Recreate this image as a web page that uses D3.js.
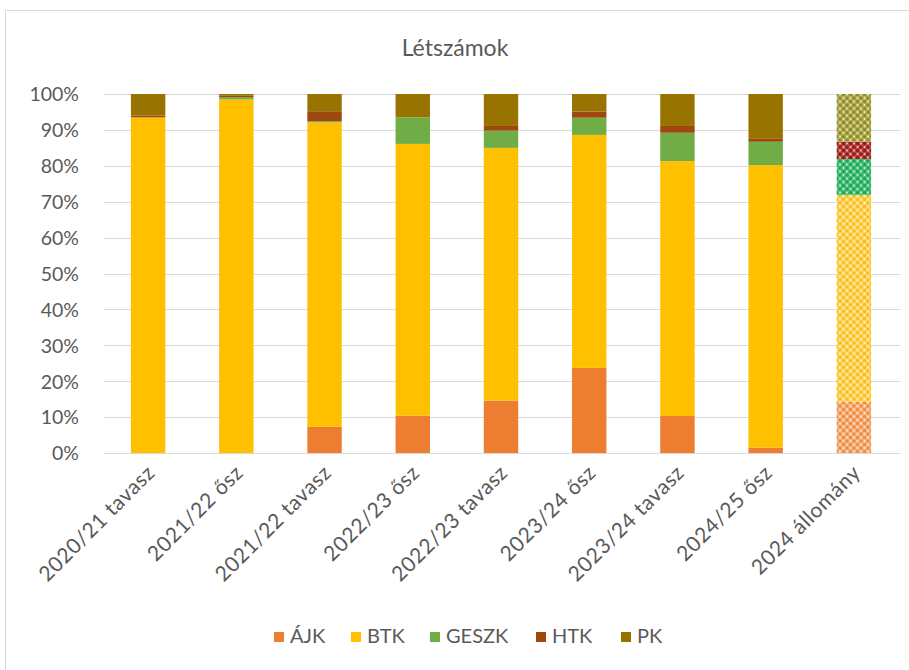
<!DOCTYPE html>
<html><head><meta charset="utf-8">
<script src="https://cdn.jsdelivr.net/npm/d3@7"></script>
<style>body{margin:0;background:#fff}svg{display:block}</style>
</head><body>
<svg id="c" width="909" height="670"></svg>
<script>
const categories = ["2020/21 tavasz","2021/22 ősz","2021/22 tavasz","2022/23 ősz","2022/23 tavasz","2023/24 ősz","2023/24 tavasz","2024/25 ősz","2024 állomány"];
const seriesNames = ["ÁJK","BTK","GESZK","HTK","PK"];
const AJK   = [0,   0,    7.3, 10.4, 14.6, 23.7, 10.3, 1.5, 14.3];
const BTK   = [93.5,98.5, 84.8,75.7, 70.4, 64.9, 71.0, 78.7,57.6];
const GESZK = [0,   0.6,  0.3, 7.4,  4.8,  4.8,  7.9,  6.5, 10.0];
const HTK   = [0.5, 0.4,  2.8, 0,    1.3,  1.7,  1.9,  0.8, 4.8];
const PK    = [6.0, 0.5,  4.8, 6.5,  8.9,  4.9,  8.9,  12.5,13.3];
const yTicks = [0,10,20,30,40,50,60,70,80,90,100];
const colors = ["#ED7D31","#FFC000","#70AD47","#9E480E","#997300"];
const patBase = ["#F6B07A","#FFD45C","#48C27A","#B8443C","#B2AC52"];
const patDot  = ["#EE8A3A","#F9BC1A","#1FA356","#8E1818","#8C8A22"];

const svg = d3.select("#c");
const font = "Lato, 'Open Sans', sans-serif";
const txt = "#595959";

svg.append("rect").attr("x",5.5).attr("y",10.5).attr("width",930).attr("height",700)
  .attr("fill","#fff").attr("stroke","#d9d9d9");

// patterns
const defs = svg.append("defs");
seriesNames.forEach((s,i)=>{
  const p = defs.append("pattern").attr("id","pat"+i).attr("patternUnits","userSpaceOnUse")
    .attr("width",7).attr("height",7);
  p.append("rect").attr("width",7).attr("height",7).attr("fill",patBase[i]);
  [[0,0],[7,0],[0,7],[7,7],[3.5,3.5]].forEach(([x,y])=>
    p.append("circle").attr("cx",x).attr("cy",y).attr("r",1.6).attr("fill",patDot[i]));
  [[3.5,0],[0,3.5],[7,3.5],[3.5,7]].forEach(([x,y])=>
    p.append("circle").attr("cx",x).attr("cy",y).attr("r",0.9).attr("fill","#fff").attr("opacity",0.8));
});

const x = d3.scaleBand().domain(categories).range([104,898]).paddingInner(0.61).paddingOuter(0.305);
const y = d3.scaleLinear().domain([0,100]).range([453,94]);

svg.append("text").attr("x",455).attr("y",56).attr("text-anchor","middle")
  .attr("font-family",font).attr("font-size",23).attr("fill",txt).text("Létszámok");

// grid
svg.append("g").selectAll("line").data(yTicks).join("line")
  .attr("x1",104).attr("x2",900).attr("y1",d=>Math.round(y(d))+0.5).attr("y2",d=>Math.round(y(d))+0.5)
  .attr("stroke","#d9d9d9").attr("stroke-width",1);

// y axis labels
const yAxis = d3.axisLeft(y).tickValues(yTicks).tickFormat(d=>d+"%").tickSize(0).tickPadding(0);
const ya = svg.append("g").attr("transform","translate(79,0)").call(yAxis);
ya.select(".domain").remove();
ya.selectAll("text").attr("font-family",font).attr("font-size",19.5).attr("fill",txt).attr("dy","0.35em");

// stacked data
const rows = categories.map((c,i)=>({cat:c,"ÁJK":AJK[i],"BTK":BTK[i],"GESZK":GESZK[i],"HTK":HTK[i],"PK":PK[i]}));
const stack = d3.stack().keys(seriesNames)(rows);
const last = categories[categories.length-1];
svg.append("g").selectAll("g").data(stack).join("g").each(function(layer,li){
  d3.select(this).selectAll("rect").data(layer).join("rect")
    .attr("x",d=>x(d.data.cat)).attr("width",x.bandwidth())
    .attr("y",d=>y(d[1])).attr("height",d=>Math.max(0,y(d[0])-y(d[1])))
    .attr("fill",d=>d.data.cat===last?`url(#pat${li})`:colors[li]);
});

// x axis labels
const xa = svg.append("g").attr("transform","translate(0,453)").call(d3.axisBottom(x).tickSize(0).tickPadding(0));
xa.select(".domain").attr("stroke","#d9d9d9");
xa.selectAll("text").attr("font-family",font).attr("font-size",21).attr("fill",txt)
  .attr("letter-spacing","0.6px")
  .attr("text-anchor","end").attr("dy",0)
  .attr("transform","translate(8,21) rotate(-45)");

// legend
const legX = [274,351,430,536,621];
const lg = svg.append("g").selectAll("g").data(seriesNames).join("g")
  .attr("transform",(d,i)=>`translate(${legX[i]},632)`);
lg.append("rect").attr("width",10).attr("height",10).attr("fill",(d,i)=>colors[i]);
lg.append("text").attr("x",16).attr("y",11).attr("font-family",font).attr("font-size",20).attr("fill",txt).text(d=>d);
</script>
</body></html>
